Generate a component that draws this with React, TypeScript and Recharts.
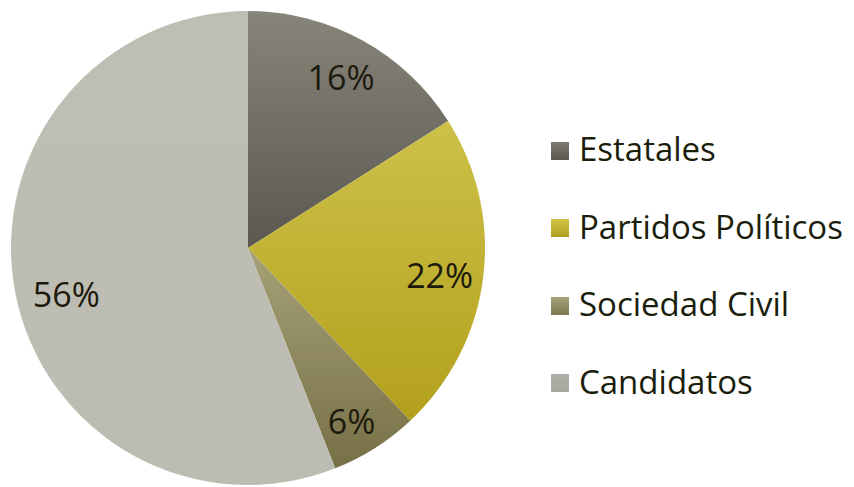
import React from "react";
import { PieChart, Pie, Cell } from "recharts";

const categories = ["Estatales", "Partidos Políticos", "Sociedad Civil", "Candidatos"];
const values = [16, 22, 6, 56];
const gradTop = ["#87847a", "#cdc14a", "#a7a177", "#bfbeb4"];
const gradBottom = ["#5b594f", "#b3a01c", "#777046", "#bdbcb2"];
const swatchTop = ["#7f7c73", "#d0c444", "#a9a37c", "#b0afa7"];
const swatchBottom = ["#5a5850", "#b09f22", "#7d774e", "#a9a8a0"];

const data = categories.map((name, i) => ({ name, value: values[i] }));
const RAD = Math.PI / 180;
const FONT = "'Open Sans', 'Noto Sans', sans-serif";
// small label nudges (style), mimicking the original best-fit placement
const nudgeX = [0, 0, 0, 8];
const nudgeY = [-2, 3, 10, 10];

const renderLabel = (props: any) => {
  const { cx, cy, midAngle, outerRadius, value, index } = props;
  const r = outerRadius * 0.815;
  const x = cx + r * Math.cos(-midAngle * RAD) + (nudgeX[index] || 0);
  const y = cy + r * Math.sin(-midAngle * RAD) + (nudgeY[index] || 0);
  return (
    <text
      x={x}
      y={y}
      fill="#1c1a0c"
      textAnchor="middle"
      dominantBaseline="central"
      fontFamily={FONT}
      fontSize={34}
    >
      {`${value}%`}
    </text>
  );
};

export default function App() {
  return (
    <div style={{ position: "absolute", left: 0, top: 0, width: 854, height: 487, background: "#fff" }}>
      <PieChart width={854} height={487} margin={{ top: 0, right: 0, bottom: 0, left: 0 }}>
        <defs>
          {categories.map((c, i) => (
            <linearGradient key={c} id={`g${i}`} x1="0" y1="0" x2="0" y2="1">
              <stop offset="0%" stopColor={gradTop[i]} />
              <stop offset="100%" stopColor={gradBottom[i]} />
            </linearGradient>
          ))}
        </defs>
        <Pie
          data={data}
          dataKey="value"
          nameKey="name"
          cx={248}
          cy={248}
          outerRadius={237}
          startAngle={90}
          endAngle={-270}
          stroke="none"
          label={renderLabel}
          labelLine={false}
          isAnimationActive={false}
        >
          {data.map((d, i) => (
            <Cell key={d.name} fill={`url(#g${i})`} />
          ))}
        </Pie>
      </PieChart>
      <div style={{ position: "absolute", left: 551, top: 110, width: 303, fontFamily: FONT }}>
        {categories.map((c, i) => (
          <div
            key={c}
            style={{ display: "flex", alignItems: "center", height: 77.5, fontSize: 33, color: "#1a1e0a" }}
          >
            <div
              style={{
                width: 18,
                height: 18,
                marginRight: 10,
                marginTop: 4,
                flexShrink: 0,
                background: `linear-gradient(${swatchTop[i]}, ${swatchBottom[i]})`,
              }}
            />
            <span style={{ whiteSpace: "nowrap" }}>{c}</span>
          </div>
        ))}
      </div>
    </div>
  );
}
